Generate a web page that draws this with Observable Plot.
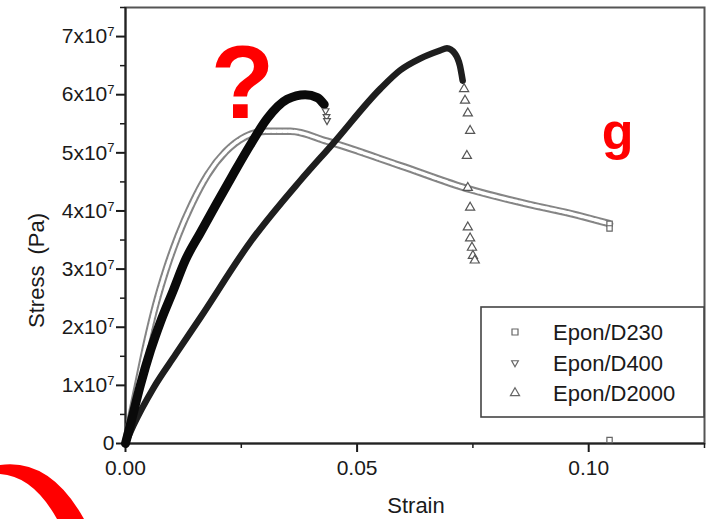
<!DOCTYPE html>
<html><head><meta charset="utf-8">
<script src="https://cdn.jsdelivr.net/npm/d3@7"></script>
<script src="https://cdn.jsdelivr.net/npm/@observablehq/plot@0.6"></script>
<style>
html,body{margin:0;padding:0;background:#fff;}
#chart{position:relative;width:710px;height:519px;overflow:hidden;}
</style></head><body><div id="chart"></div>
<script>
// ---- data ----
const seriesNames = ["Epon/D230", "Epon/D400", "Epon/D2000"];

const d230Strain = [0, 0.0011, 0.0026, 0.0045, 0.0065, 0.0088, 0.0114, 0.0144, 0.0177, 0.0216, 0.0259, 0.0302, 0.0356, 0.0435, 0.0593, 0.0744, 0.0873, 0.0959, 0.1045];
const d230Stress = [0, 0.43e7, 1.0e7, 1.72e7, 2.38e7, 3.0e7, 3.58e7, 4.13e7, 4.62e7, 5.02e7, 5.28e7, 5.37e7, 5.37e7, 5.2e7, 4.78e7, 4.37e7, 4.11e7, 3.96e7, 3.78e7];
const d230EndStrain = [0.1045, 0.1045, 0.1045];
const d230EndStress = [3.78e7, 3.70e7, 0.06e7];

const d400Strain = [0, 0.0013, 0.0032, 0.0054, 0.0075, 0.0103, 0.0129, 0.0162, 0.0194, 0.0231, 0.0269, 0.0306, 0.0349, 0.0388, 0.0414, 0.0429];
const d400Stress = [0, 0.40e7, 1.0e7, 1.6e7, 2.08e7, 2.63e7, 3.15e7, 3.63e7, 4.09e7, 4.61e7, 5.13e7, 5.59e7, 5.92e7, 6.0e7, 5.95e7, 5.83e7];
const d400EndStrain = [0.0432, 0.0434, 0.0435];
const d400EndStress = [5.72e7, 5.62e7, 5.55e7];

const d2000Strain = [0, 0.0017, 0.006, 0.0108, 0.0162, 0.0269, 0.0377, 0.0448, 0.055, 0.0593, 0.0636, 0.0679, 0.0694, 0.0711, 0.0722, 0.0728];
const d2000Stress = [0, 0.31e7, 0.95e7, 1.53e7, 2.17e7, 3.46e7, 4.52e7, 5.16e7, 6.1e7, 6.42e7, 6.62e7, 6.76e7, 6.80e7, 6.71e7, 6.50e7, 6.24e7];
const d2000TailStrain = [0.0731, 0.0733, 0.0739, 0.0744, 0.0737, 0.0739, 0.0744, 0.0739, 0.0744, 0.0748, 0.0750, 0.0754];
const d2000TailStress = [6.10e7, 5.90e7, 5.68e7, 5.38e7, 4.95e7, 4.40e7, 4.06e7, 3.72e7, 3.53e7, 3.37e7, 3.23e7, 3.15e7];

const xMajor = [0, 0.05, 0.10];
const xMinor = [0.025, 0.075, 0.125];
const yMajor = [0, 1e7, 2e7, 3e7, 4e7, 5e7, 6e7, 7e7];
const yMinor = [0.5e7, 1.5e7, 2.5e7, 3.5e7, 4.5e7, 5.5e7, 6.5e7, 7.5e7];
const xTitle = "Strain";
const yTitle = "Stress\u2002(Pa)";
const notes = ["?", "g"];

// ---- tables ----
const tbl = (xs, ys) => xs.map((x, i) => ({strain: x, stress: ys[i]}));
const d230 = tbl(d230Strain, d230Stress), d230End = tbl(d230EndStrain, d230EndStress);
const d400 = tbl(d400Strain, d400Stress), d400End = tbl(d400EndStrain, d400EndStress);
const d2000 = tbl(d2000Strain, d2000Stress), d2000Tail = tbl(d2000TailStrain, d2000TailStress);

const triDown = {draw(ctx, size) { const s = Math.sqrt(size) * 0.62; ctx.moveTo(0, s); ctx.lineTo(s * 0.9, -s * 0.6); ctx.lineTo(-s * 0.9, -s * 0.6); ctx.closePath(); }};

const FONT = "'Liberation Sans', Arial, Helvetica, sans-serif";
const ink = "#1a1a1a";

const svg = Plot.plot({
  width: 710, height: 519,
  marginLeft: 125, marginRight: 6, marginTop: 7, marginBottom: 76,
  style: {fontFamily: FONT, fontSize: "21px", color: ink, background: "white", overflow: "visible"},
  x: {domain: [0, 0.125], label: null},
  y: {domain: [0, 7.5e7], label: null},
  marks: [
    Plot.frame({stroke: "#555", strokeWidth: 2}),
    Plot.axisY({ticks: yMinor, tickSize: 5, tickFormat: () => "", strokeWidth: 1.5, label: null}),
    Plot.axisY({ticks: yMajor, tickSize: 9, tickPadding: 2, strokeWidth: 2, label: null,
      tickFormat: d => d === 0 ? "0" : `${Math.round(d / 1e7)}x10`}),
    Plot.axisX({ticks: xMinor, tickSize: 5, tickFormat: () => "", strokeWidth: 1.5, label: null}),
    Plot.axisX({ticks: xMajor, tickSize: 9, tickPadding: 8, strokeWidth: 2, label: null, tickFormat: d3.format(".2f")}),
    Plot.ruleX([0], {stroke: "#222", strokeWidth: 2}),
    Plot.ruleY([0], {stroke: "#222", strokeWidth: 2}),
    // D230 : chain of open squares
    Plot.line(d230, {x: "strain", y: "stress", stroke: "#858585", strokeWidth: 7.5, curve: "monotone-x"}),
    Plot.line(d230, {x: "strain", y: "stress", stroke: "white", strokeWidth: 3.5, strokeDasharray: "4 1.6", curve: "monotone-x"}),
    Plot.dot(d230End, {x: "strain", y: "stress", symbol: "square", r: 3, stroke: "#666", strokeWidth: 1.2, fill: "white"}),
    // D2000 : up triangles
    Plot.line(d2000, {x: "strain", y: "stress", stroke: "#1e1e1e", strokeWidth: 6.5, curve: "monotone-x"}),
    Plot.dot(d2000Tail, {x: "strain", y: "stress", symbol: "triangle", r: 3.4, stroke: "#555", strokeWidth: 1.2, fill: "white"}),
    // D400 : down triangles (dense -> black band)
    Plot.line(d400, {x: "strain", y: "stress", stroke: "#0a0a0a", strokeWidth: 9, curve: "monotone-x"}),
    Plot.dot(d400End, {x: "strain", y: "stress", symbol: triDown, r: 3.4, stroke: "#555", strokeWidth: 1.2, fill: "white"}),
    // axis titles
    Plot.text([yTitle], {frameAnchor: "left", dx: -89, dy: 45, rotate: -90, textAnchor: "middle", lineAnchor: "middle", fontSize: 22, fill: ink}),
    Plot.text([xTitle], {frameAnchor: "bottom", dx: 1, dy: 62, textAnchor: "middle", lineAnchor: "middle", fontSize: 22, fill: ink}),
    // red annotations
    Plot.text([notes[0]], {frameAnchor: "top-left", dx: 117, dy: 110, textAnchor: "middle", lineAnchor: "bottom", fontSize: 104, fontWeight: "bold", fill: "#ff0000"}),
    Plot.text([notes[1]], {frameAnchor: "top-left", dx: 492, dy: 141, textAnchor: "middle", lineAnchor: "bottom", fontSize: 52, fontWeight: "bold", fill: "#ff0000"})
  ]
});

// superscript exponents on y tick labels
d3.select(svg).selectAll('g[aria-label="y-axis tick label"] text').each(function () {
  const t = this.textContent;
  if (t.endsWith("x10")) {
    d3.select(this).append("tspan").attr("dy", "-0.55em").attr("font-size", "13px").text("7");
  }
});

// legend
const lg = d3.select(svg).append("g").attr("font-family", FONT).attr("font-size", "22px").attr("fill", ink)
  .attr("text-anchor", "start");
lg.append("rect").attr("x", 481).attr("y", 307).attr("width", 223).attr("height", 110)
  .attr("fill", "white").attr("stroke", "#444").attr("stroke-width", 1.6);
const symTypes = [d3.symbolSquare, triDown, d3.symbolTriangle];
const rowY = [332, 363, 393];
seriesNames.forEach((name, i) => {
  lg.append("path").attr("d", d3.symbol(symTypes[i], 36)()).attr("transform", `translate(515,${rowY[i]})`)
    .attr("fill", "white").attr("stroke", "#666").attr("stroke-width", 1.2);
  lg.append("text").attr("x", 553).attr("y", rowY[i] + 8).attr("text-anchor", "start").text(name);
});

// red arc decoration (bottom-left)
d3.select(svg).append("path")
  .attr("d", "M0,465 Q50,458 84,519 L57,519 Q33,476 0,474 Z")
  .attr("fill", "#ff0000");

document.getElementById("chart").appendChild(svg);
</script></body></html>
